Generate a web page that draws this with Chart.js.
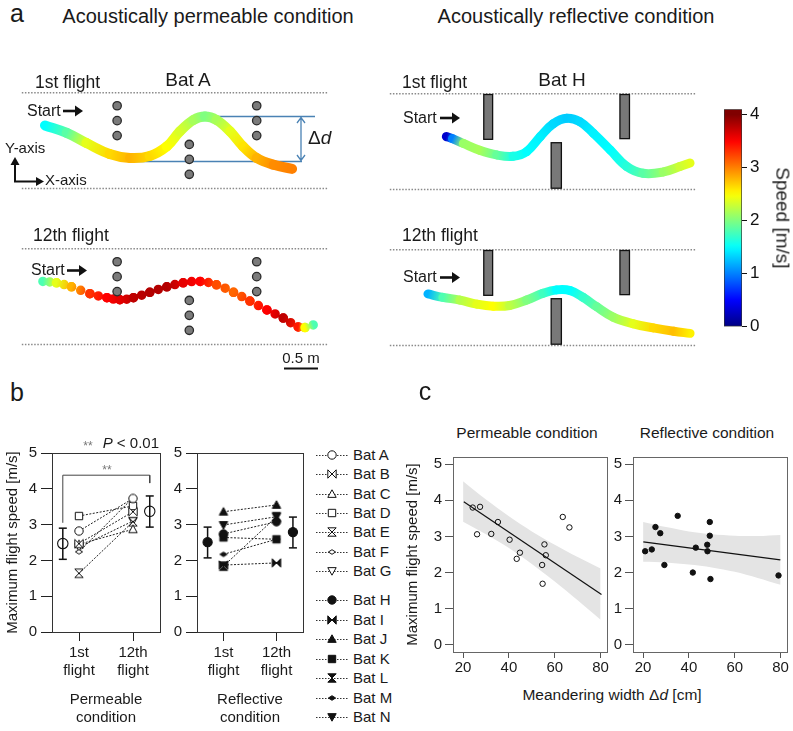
<!DOCTYPE html>
<html>
<head>
<meta charset="utf-8">
<script src="https://cdn.jsdelivr.net/npm/chart.js@4.4.1/dist/chart.umd.min.js"></script>
<style>
  html, body { margin: 0; padding: 0; background: #fff; }
  #fig { position: relative; width: 793px; height: 731px; overflow: hidden; background: #fff;
         font-family: 'Liberation Sans', Arial, Helvetica, sans-serif; color: #1a1a1a; }
  #fig canvas { position: absolute; }
</style>
</head>
<body>
<div id="fig">
<svg width="793" height="731" style="position:absolute;left:0;top:0">
  <g fill="#111" stroke="#111">
    <path d="M63 111H76" stroke-width="2.6"/><path d="M75 105.5L83 111L75 116.5Z" stroke="none"/>
    <path d="M67 270.5H80" stroke-width="2.6"/><path d="M79 265L87 270.5L79 276Z" stroke="none"/>
    <path d="M440 118H453" stroke-width="2.6"/><path d="M452 112.5L460 118L452 123.5Z" stroke="none"/>
    <path d="M440 277.5H453" stroke-width="2.6"/><path d="M452 272L460 277.5L452 283Z" stroke="none"/>
    <path d="M15 181.5V163M14 181.5H38" fill="none" stroke-width="2"/>
    <path d="M10.5 165L15 157L19.5 165Z" stroke="none"/>
    <path d="M36 177L44 181.5L36 186Z" stroke="none"/>
    <path d="M284 368.5H318" stroke-width="2"/>
  </g>
  <g stroke="#4a82b4" stroke-width="1.3" fill="none">
    <path d="M204 116.5H315M130 161.5H302M301 118V160M297 123L301 117.5L305 123M297 155L301 160.5L305 155"/>
  </g>
</svg>
</div>
<script>
// ---------- panel a: flight paths (m along / across corridor) and speed (m/s)
const pathA1x = [0.34, 0.66, 0.95, 1.29, 1.59, 1.88, 2.13, 2.32, 2.52, 2.69, 2.86, 3.06, 3.25, 3.45, 3.70, 3.97];
const pathA1y = [0.93, 0.82, 0.67, 0.51, 0.45, 0.48, 0.62, 0.84, 1.01, 1.06, 1.01, 0.84, 0.62, 0.45, 0.35, 0.29];
const pathA1v = [1.5, 1.85, 2.4, 2.65, 2.8, 2.65, 2.5, 2.35, 2.15, 2.0, 2.15, 2.4, 2.6, 2.8, 2.95, 3.0];

const pathA12x = [0.31, 0.51, 0.73, 1.00, 1.25, 1.44, 1.64, 1.88, 2.13, 2.37, 2.62, 2.86, 3.11, 3.35, 3.60, 3.84, 4.06, 4.16, 4.28];
const pathA12y = [0.93, 0.91, 0.85, 0.75, 0.69, 0.66, 0.69, 0.77, 0.85, 0.91, 0.93, 0.88, 0.77, 0.64, 0.51, 0.39, 0.26, 0.25, 0.29];
const pathA12v = [1.8, 2.4, 2.8, 3.3, 3.5, 3.6, 3.75, 3.8, 3.8, 3.6, 3.5, 3.2, 3.1, 3.3, 3.5, 3.75, 3.4, 2.5, 1.8];

const pathH1x = [0.83, 0.92, 1.08, 1.32, 1.57, 1.81, 2.01, 2.21, 2.40, 2.60, 2.79, 2.99, 3.24, 3.48, 3.72, 4.02, 4.26, 4.41];
const pathH1y = [0.78, 0.75, 0.68, 0.58, 0.51, 0.49, 0.56, 0.78, 0.97, 1.05, 1.00, 0.83, 0.58, 0.34, 0.24, 0.26, 0.34, 0.39];
const pathH1v = [0.3, 1.0, 2.1, 2.15, 1.9, 1.6, 1.5, 1.45, 1.35, 1.3, 1.35, 1.45, 1.5, 1.65, 1.85, 2.1, 2.3, 2.4];

const pathH12x = [0.56, 0.78, 1.03, 1.28, 1.52, 1.76, 2.01, 2.25, 2.45, 2.65, 2.84, 3.04, 3.28, 3.58, 3.87, 4.17, 4.41];
const pathH12y = [0.76, 0.71, 0.67, 0.61, 0.58, 0.59, 0.67, 0.77, 0.82, 0.81, 0.71, 0.57, 0.42, 0.32, 0.26, 0.21, 0.18];
const pathH12v = [1.2, 1.8, 2.2, 2.4, 2.5, 2.25, 2.0, 1.75, 1.5, 1.5, 1.7, 1.9, 2.1, 2.4, 2.65, 2.75, 2.55];

// cylinders (permeable) and boards (reflective), m
const cylX = [1.40, 1.40, 1.40, 2.46, 2.46, 2.46, 3.45, 3.45, 3.45];
const cylY = [1.22, 1.00, 0.78, 0.65, 0.43, 0.21, 1.22, 1.00, 0.78];
const boardX0 = [1.38, 2.37, 3.38];
const boardX1 = [1.51, 2.52, 3.52];
const boardY0 = [0.74, 0.02, 0.75];
const boardY1 = [1.40, 0.69, 1.40];
const speedTicks = [0, 1, 2, 3, 4];
const speedBarTop = 4.1;

// ---------- panel b: maximum flight speed (m/s)
const permBats = ['Bat A', 'Bat B', 'Bat C', 'Bat D', 'Bat E', 'Bat F', 'Bat G'];
const permFirst = [2.82, 2.47, 2.45, 3.24, 1.64, 2.24, 2.37];
const permTwelfth = [3.73, 3.36, 2.87, 3.52, 3.08, 3.75, 3.10];
const permMean = [2.47, 3.37];
const permLo = [2.03, 2.93];
const permHi = [2.90, 3.80];

const reflBats = ['Bat H', 'Bat I', 'Bat J', 'Bat K', 'Bat L', 'Bat M', 'Bat N'];
const reflFirst = [2.74, 1.87, 3.36, 2.64, 1.84, 2.17, 2.99];
const reflTwelfth = [3.08, 1.93, 3.55, 2.59, 3.22, 2.59, 3.22];
const reflMean = [2.51, 2.79];
const reflLo = [2.07, 2.35];
const reflHi = [2.93, 3.21];

const batShapes = ['circle', 'bowtie', 'triangle', 'square', 'hourglass', 'diamond', 'triangleDown'];
const flightTicks = [1, 2];
const flightLabels = [['1st', 'flight'], ['12th', 'flight']];
const yTicks = [0, 1, 2, 3, 4, 5];

// ---------- panel c: meandering width (cm) vs max speed (m/s)
const permDx = [24.2, 27.4, 26.1, 32.3, 35.2, 40.3, 44.8, 43.4, 55.5, 56.1, 54.5, 54.7, 63.5, 66.4];
const permSpeed = [3.80, 3.82, 3.06, 3.07, 3.40, 2.91, 2.55, 2.38, 2.78, 2.48, 2.21, 1.69, 3.54, 3.25];
const reflDx = [20.9, 23.8, 25.4, 27.5, 29.3, 35.1, 41.7, 43.0, 48.0, 48.1, 49.1, 49.1, 49.4, 79.1];
const reflSpeed = [2.59, 2.64, 3.26, 3.09, 2.21, 3.57, 2.00, 2.69, 2.77, 2.59, 3.40, 3.02, 1.82, 1.92];

const permFitX = [20.3, 80.4];
const permFitY = [3.96, 1.39];
const reflFitX = [20.1, 79.9];
const reflFitY = [2.85, 2.35];

const bandX = [20, 30, 40, 50, 60, 70, 80];
const permUpper = [4.53, 4.02, 3.56, 3.14, 2.77, 2.43, 2.11];
const permLower = [3.41, 3.06, 2.68, 2.24, 1.75, 1.23, 0.69];
const reflUpper = [3.40, 3.26, 3.14, 3.06, 3.02, 3.01, 3.04];
const reflLower = [2.30, 2.28, 2.22, 2.14, 2.02, 1.85, 1.66];
const widthTicks = [20, 40, 60, 80];

// ---------------------------------------------------------------------
Chart.defaults.font.family = "'Liberation Sans', Arial, Helvetica, sans-serif";
Chart.defaults.color = '#1a1a1a';
Chart.defaults.events = [];

const fig = document.getElementById('fig');

function addCanvas(left, top, w, h) {
  const c = document.createElement('canvas');
  c.width = w; c.height = h;
  c.style.cssText = `left:${left}px;top:${top}px;width:${w}px;height:${h}px`;
  fig.appendChild(c);
  return c;
}

function label(html, x, y, size, o = {}) {
  const d = document.createElement('div');
  d.innerHTML = html;
  const ax = o.align === 'left' ? '0' : o.align === 'right' ? '-100%' : '-50%';
  d.style.cssText = `position:absolute;left:${x}px;top:${y}px;font-size:${size}px;line-height:1.2;` +
    `white-space:nowrap;color:${o.color || '#1a1a1a'};transform:translate(${ax},-50%)` +
    (o.rotate ? ` rotate(${o.rotate}deg)` : '') + ';';
  fig.appendChild(d);
}

function jet(v) {
  const t = Math.max(0, Math.min(1, v / 4));
  const c = x => Math.round(255 * Math.max(0, Math.min(1, x)));
  return `rgb(${c(1.5 - Math.abs(4 * t - 3))},${c(1.5 - Math.abs(4 * t - 2))},${c(1.5 - Math.abs(4 * t - 1))})`;
}

function base(extra) {
  return Object.assign({
    responsive: false, maintainAspectRatio: false, devicePixelRatio: 1, animation: false,
    layout: { autoPadding: false, padding: 0 },
    plugins: { legend: { display: false }, tooltip: { enabled: false }, colors: { enabled: false } }
  }, extra);
}

const boxPlugin = (color) => ({
  id: 'box',
  afterDraw(chart) {
    const { ctx, chartArea: a } = chart;
    ctx.save();
    ctx.strokeStyle = color; ctx.lineWidth = 1;
    ctx.strokeRect(Math.round(a.left) + 0.5, Math.round(a.top) + 0.5,
      Math.round(a.right - a.left), Math.round(a.bottom - a.top));
    ctx.restore();
  }
});

// ---------- panel a
const boardsPlugin = {
  id: 'boards',
  afterDatasetsDraw(chart) {
    const { ctx, scales: { x, y } } = chart;
    ctx.save();
    ctx.fillStyle = '#787878'; ctx.strokeStyle = '#111'; ctx.lineWidth = 1.3;
    boardX0.forEach((v, i) => {
      const l = x.getPixelForValue(v), r = x.getPixelForValue(boardX1[i]);
      const t = y.getPixelForValue(boardY1[i]), b = y.getPixelForValue(boardY0[i]);
      ctx.fillRect(l, t, r - l, b - t);
      ctx.strokeRect(l, t, r - l, b - t);
    });
    ctx.restore();
  }
};

function speedStroke(sc, v) {
  const g = sc.chart.ctx.createLinearGradient(sc.p0.x, sc.p0.y, sc.p1.x, sc.p1.y);
  g.addColorStop(0, jet(v[sc.p0DataIndex]));
  g.addColorStop(1, jet(v[sc.p1DataIndex]));
  return g;
}

function arena(left, top, px, py, pv, o) {
  const canvas = addCanvas(left, top, 320, 110);
  const datasets = [];
  if (o.cylinders) {
    datasets.push({
      data: cylX.map((x, i) => ({ x, y: cylY[i] })), showLine: false,
      pointRadius: 4.2, pointBackgroundColor: '#7b7b7b', pointBorderColor: '#2a2a2a', pointBorderWidth: 1.3
    });
  }
  const segment = { borderColor: sc => speedStroke(sc, pv) };
  if (o.dotted) {
    segment.borderDash = sc => {
      const L = Math.hypot(sc.p1.x - sc.p0.x, sc.p1.y - sc.p0.y);
      return [0, L / Math.max(1, Math.round(L / 8.4))];
    };
  }
  datasets.push({
    data: px.map((x, i) => ({ x, y: py[i] })), borderColor: jet(pv[0]), borderWidth: o.width,
    tension: 0.4, pointRadius: 0, borderCapStyle: 'round', borderJoinStyle: 'round', segment
  });
  [0, 1.41].forEach(w => datasets.push({
    data: [{ x: 0, y: w }, { x: 4.5, y: w }], borderColor: '#8a8a8a', borderWidth: 1.5,
    borderDash: [1.5, 1.6], pointRadius: 0
  }));
  new Chart(canvas, {
    type: 'line',
    data: { datasets },
    options: base({
      scales: {
        x: { type: 'linear', display: false, min: -0.1, max: 4.6 },
        y: { type: 'linear', display: false, min: -0.08, max: 1.54 }
      }
    }),
    plugins: o.boards ? [boardsPlugin] : []
  });
}

arena(15, 84, pathA1x, pathA1y, pathA1v, { cylinders: true, width: 10 });
arena(15, 240, pathA12x, pathA12y, pathA12v, { cylinders: true, width: 9.5, dotted: true });
arena(383, 85, pathH1x, pathH1y, pathH1v, { boards: true, width: 9 });
arena(383, 241, pathH12x, pathH12y, pathH12v, { boards: true, width: 9 });

// colour bar
new Chart(addCanvas(724, 96, 50, 244), {
  type: 'bar',
  data: {
    labels: [''],
    datasets: [{
      data: [[speedTicks[0], speedBarTop]],
      backgroundColor: ctx => {
        const a = ctx.chart.chartArea;
        if (!a) return '#888';
        const g = ctx.chart.ctx.createLinearGradient(0, a.bottom, 0, a.top);
        for (let i = 0; i <= 40; i++) g.addColorStop(i / 40, jet(speedBarTop * i / 40));
        return g;
      },
      borderColor: '#333', borderWidth: 1, borderSkipped: false,
      barPercentage: 1, categoryPercentage: 1
    }]
  },
  options: base({
    layout: { autoPadding: false, padding: { top: 11, bottom: 11, left: 0, right: 0 } },
    scales: {
      x: { display: false },
      y: {
        position: 'right', min: 0, max: speedBarTop,
        afterBuildTicks: s => { s.ticks = speedTicks.map(v => ({ value: v })); },
        afterFit: s => { s.width = 32; },
        ticks: { font: { size: 17 }, color: '#111', padding: 3 },
        grid: { drawOnChartArea: false, tickLength: 5, color: '#111' },
        border: { display: false }
      }
    }
  })
});

// ---------- panel b
function makeMarker(shape, filled) {
  const s = 12, c = document.createElement('canvas');
  c.width = s; c.height = s;
  const g = c.getContext('2d');
  g.translate(s / 2, s / 2);
  g.lineWidth = 1; g.strokeStyle = '#111'; g.fillStyle = filled ? '#111' : '#fff';
  const r = 4.2;
  const poly = pts => { g.moveTo(pts[0][0], pts[0][1]); pts.slice(1).forEach(p => g.lineTo(p[0], p[1])); g.closePath(); };
  g.beginPath();
  if (shape === 'circle') g.arc(0, 0, r, 0, Math.PI * 2);
  else if (shape === 'square') g.rect(-3.7, -3.7, 7.4, 7.4);
  else if (shape === 'triangle') poly([[0, -r], [r, r * 0.8], [-r, r * 0.8]]);
  else if (shape === 'triangleDown') poly([[0, r], [r, -r * 0.8], [-r, -r * 0.8]]);
  else if (shape === 'bowtie') poly([[-r, -r], [0, 0], [r, -r], [r, r], [0, 0], [-r, r]]);
  else if (shape === 'hourglass') poly([[-r, -r], [r, -r], [0, 0], [r, r], [-r, r], [0, 0]]);
  else if (shape === 'diamond') poly([[-3.6, 0], [0, -2.3], [3.6, 0], [0, 2.3]]);
  g.fill(); g.stroke();
  return c;
}
const openMarkers = batShapes.map(s => makeMarker(s, false));
const solidMarkers = batShapes.map(s => makeMarker(s, true));
const meanPos = [0.7, 2.31];

function speedPanel(left, width, yWidth, cfg) {
  const ds = [];
  ds.push({
    data: cfg.mean.map((m, i) => ({ x: meanPos[i], y: m })), showLine: false, pointStyle: 'circle',
    pointRadius: cfg.filled ? 4.6 : 5.2, pointBackgroundColor: cfg.filled ? '#111' : 'rgba(0,0,0,0)',
    pointBorderColor: '#111', pointBorderWidth: 1.1
  });
  cfg.lo.forEach((lo, i) => ds.push({
    data: [{ x: meanPos[i], y: lo }, { x: meanPos[i], y: cfg.hi[i] }], borderColor: '#111', borderWidth: 1.5,
    pointStyle: 'line', pointRadius: 4, pointBorderWidth: 1.5, pointBorderColor: '#111'
  }));
  cfg.first.forEach((v, i) => ds.push({
    data: [{ x: 1, y: v }, { x: 2, y: cfg.twelfth[i] }], borderColor: '#222', borderWidth: 1,
    borderDash: [2, 1.5], pointStyle: cfg.markers[i], pointRadius: 5
  }));
  if (cfg.bracket) ds.push({
    data: [{ x: 0.7, y: 3.05 }, { x: 0.7, y: 4.38 }, { x: 2.31, y: 4.38 }, { x: 2.31, y: 4.16 }],
    borderColor: '#444', borderWidth: 1, pointRadius: 0
  });
  new Chart(addCanvas(left, 430, width, 301), {
    type: 'line',
    data: { datasets: ds },
    options: base({
      layout: { autoPadding: false, padding: { top: 23, right: width - yWidth - 106 - (cfg.boxW || 0), bottom: 0, left: 0 } },
      scales: {
        x: {
          type: 'linear', min: 0.5, max: 2.5,
          afterBuildTicks: s => { s.ticks = flightTicks.map(v => ({ value: v })); },
          afterFit: s => { s.height = 99; },
          ticks: { callback: v => flightLabels[flightTicks.indexOf(v)], font: { size: 15 }, padding: 3, maxRotation: 0, autoSkip: false },
          grid: { drawOnChartArea: false, tickLength: 9, color: '#222' },
          border: { display: false },
          title: { display: true, text: cfg.title, font: { size: 15 }, padding: { top: 4, bottom: 4 } }
        },
        y: {
          type: 'linear', min: 0, max: 5,
          afterBuildTicks: s => { s.ticks = yTicks.map(v => ({ value: v })); },
          afterFit: s => { s.width = yWidth; },
          ticks: { font: { size: 15 }, padding: 4 },
          grid: { drawOnChartArea: false, tickLength: 11, color: '#222' },
          border: { display: false },
          title: { display: !!cfg.yTitle, text: cfg.yTitle || '', font: { size: 15 }, padding: { top: 4, bottom: 0 } }
        }
      }
    }),
    plugins: [boxPlugin('#333')]
  });
}

speedPanel(0, 170, 52, {
  mean: permMean, lo: permLo, hi: permHi, first: permFirst, twelfth: permTwelfth,
  markers: openMarkers, filled: false, bracket: true, boxW: 2,
  title: ['Permeable', 'condition'], yTitle: 'Maximum flight speed [m/s]'
});
speedPanel(170, 140, 27, {
  mean: reflMean, lo: reflLo, hi: reflHi, first: reflFirst, twelfth: reflTwelfth,
  markers: solidMarkers, filled: true, title: ['Reflective', 'condition']
});

// legend
function legendRow(name, marker, y) {
  const c = addCanvas(315, Math.round(y) - 7, 34, 14);
  const g = c.getContext('2d');
  g.strokeStyle = '#333'; g.lineWidth = 1; g.setLineDash([1.5, 1.5]);
  g.beginPath(); g.moveTo(1, 7.5); g.lineTo(33, 7.5); g.stroke();
  g.drawImage(marker, 11, 1);
  label(name, 353, y, 15, { align: 'left' });
}
permBats.forEach((b, i) => legendRow(b, openMarkers[i], 455 + i * 19.35));
reflBats.forEach((b, i) => legendRow(b, solidMarkers[i], 600 + i * 19.5));

// ---------- panel c
function fitPanel(left, width, yWidth, cfg) {
  const pts = cfg.x.map((x, i) => ({ x, y: cfg.y[i] }));
  new Chart(addCanvas(left, 445, width, 240), {
    type: 'line',
    data: {
      datasets: [
        { data: pts, showLine: false, pointStyle: 'circle', pointRadius: 2.7, pointBorderWidth: 1,
          pointBorderColor: '#111', pointBackgroundColor: cfg.filled ? '#111' : 'rgba(0,0,0,0)' },
        { data: cfg.fitX.map((x, i) => ({ x, y: cfg.fitY[i] })), borderColor: '#111', borderWidth: 1.2, pointRadius: 0 },
        { data: bandX.map((x, i) => ({ x, y: cfg.upper[i] })), borderWidth: 0, borderColor: 'rgba(0,0,0,0)',
          pointRadius: 0, tension: 0.3, fill: '+1', backgroundColor: '#e4e4e4' },
        { data: bandX.map((x, i) => ({ x, y: cfg.lower[i] })), borderWidth: 0, borderColor: 'rgba(0,0,0,0)',
          pointRadius: 0, tension: 0.3, fill: false }
      ]
    },
    options: base({
      layout: { autoPadding: false, padding: { top: 12, right: 6, bottom: 0, left: 0 } },
      plugins: { legend: { display: false }, tooltip: { enabled: false }, colors: { enabled: false },
                 filler: { drawTime: 'beforeDatasetsDraw' } },
      scales: {
        x: {
          type: 'linear', min: 15.6, max: 82.8,
          afterBuildTicks: s => { s.ticks = widthTicks.map(v => ({ value: v })); },
          afterFit: s => { s.height = 33; },
          ticks: { font: { size: 15 }, padding: 1, maxRotation: 0, autoSkip: false },
          grid: { drawOnChartArea: false, tickLength: 6, color: '#555' },
          border: { display: false }
        },
        y: {
          type: 'linear', min: -0.2, max: 5.2,
          afterBuildTicks: s => { s.ticks = yTicks.map(v => ({ value: v })); },
          afterFit: s => { s.width = yWidth; },
          ticks: { font: { size: 15 }, padding: 3 },
          grid: { drawOnChartArea: false, tickLength: 8, color: '#555' },
          border: { display: false },
          title: { display: !!cfg.yTitle, text: cfg.yTitle || '', font: { size: 15 }, padding: { top: 6, bottom: 0 } }
        }
      }
    }),
    plugins: [boxPlugin('#666')]
  });
}

fitPanel(398, 215, 55, {
  x: permDx, y: permSpeed, fitX: permFitX, fitY: permFitY, upper: permUpper, lower: permLower,
  filled: false, yTitle: 'Maximum flight speed [m/s]'
});
fitPanel(613, 180, 20, {
  x: reflDx, y: reflSpeed, fitX: reflFitX, fitY: reflFitY, upper: reflUpper, lower: reflLower, filled: true
});

// ---------- text
label('a', 17, 13, 25);
label('Acoustically permeable condition', 208, 15.5, 20);
label('Acoustically reflective condition', 576, 15.5, 20);
label('1st flight', 35, 81.5, 17.5, { align: 'left' });
label('Bat A', 188, 79.5, 19);
label('Start', 27, 111, 16, { align: 'left' });
label('Y-axis', 5, 148, 15, { align: 'left' });
label('X-axis', 45, 180, 15, { align: 'left' });
label('&Delta;<i>d</i>', 308, 138, 19, { align: 'left' });
label('12th flight', 33, 235, 17.5, { align: 'left' });
label('Start', 31, 269.5, 16, { align: 'left' });
label('0.5 m', 301, 358, 15);
label('1st flight', 402, 81.5, 17.5, { align: 'left' });
label('Bat H', 562, 79.5, 19);
label('Start', 403, 118, 16, { align: 'left' });
label('12th flight', 402, 235, 17.5, { align: 'left' });
label('Start', 403, 277, 16, { align: 'left' });
label('Speed [m/s]', 782, 218, 19, { rotate: 90 });

label('b', 17, 392, 25);
label('**', 88, 446, 12, { color: '#777' });
label('<i>P</i> &lt; 0.01', 159, 443, 15, { align: 'right' });
label('**', 107, 470, 12, { color: '#777' });

label('c', 425, 391, 25);
label('Permeable condition', 527, 433, 15.5);
label('Reflective condition', 707, 433, 15.5);
label('Meandering width &Delta;<i>d</i> [cm]', 612, 695, 15.5);
</script>
</body>
</html>
